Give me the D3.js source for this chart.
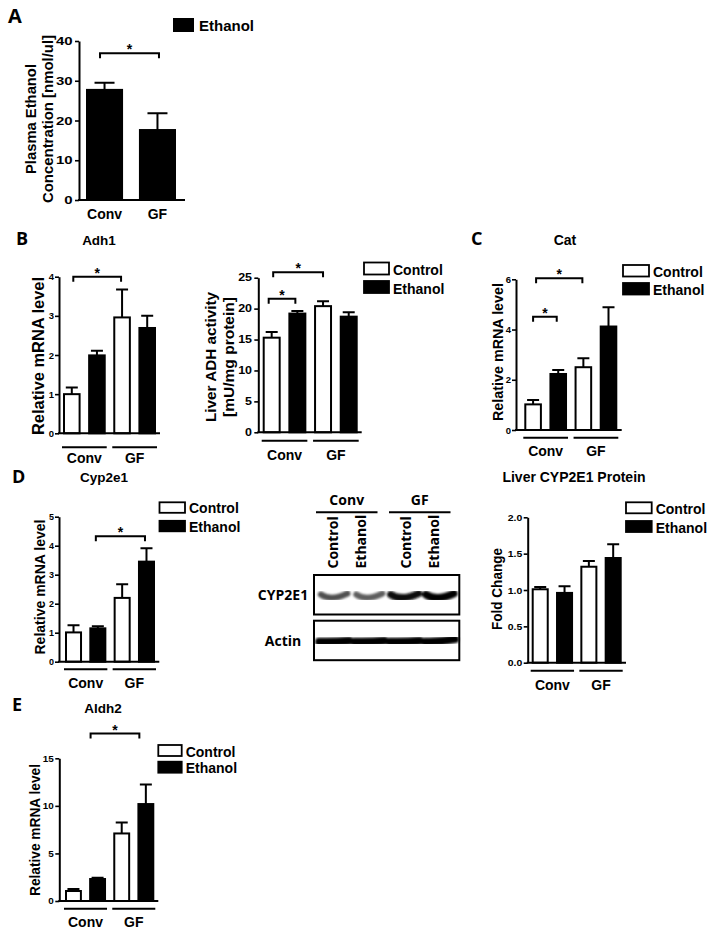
<!DOCTYPE html>
<html>
<head>
<meta charset="utf-8">
<script src="https://cdn.jsdelivr.net/npm/d3@7"></script>
<style>
body { margin: 0; background: #fff; }
</style>
</head>
<body>
<div id="fig"></div>
<script>
var groups = ['Conv', 'GF'];
var treatments = ['Control', 'Ethanol'];
var barKeys = d3.cross(groups, treatments).map(d => d.join(' '));
var barFills = ['#fff', '#000', '#fff', '#000'];

// A - plasma ethanol
var plasmaMean = [27.7, 17.6];
var plasmaErr = [1.8, 4.2];
var plasmaTicks = [0, 10, 20, 30, 40];
// B - Adh1 mRNA and ADH activity
var adh1Mean = [1.0, 1.99, 2.96, 2.69];
var adh1Err = [0.17, 0.12, 0.71, 0.31];
var adh1Ticks = [0, 1, 2, 3, 4];
var adhActMean = [15.3, 19.2, 20.4, 18.7];
var adhActErr = [0.9, 0.4, 0.8, 0.7];
var adhActTicks = [0, 5, 10, 15, 20, 25];
// C - Cat
var catMean = [1.02, 2.23, 2.5, 4.12];
var catErr = [0.17, 0.16, 0.36, 0.77];
var catTicks = [0, 2, 4, 6];
// D - Cyp2e1 mRNA and protein
var cypMean = [1.01, 1.15, 2.2, 3.45];
var cypErr = [0.25, 0.07, 0.47, 0.46];
var cypTicks = [0, 1, 2, 3, 4, 5];
var cypProtMean = [1.01, 0.96, 1.32, 1.44];
var cypProtErr = [0.03, 0.09, 0.08, 0.19];
var cypProtTicks = [0, 0.5, 1.0, 1.5, 2.0];
// blot band density (relative)
var cypBand = [0.62, 0.55, 0.95, 1.0];
var actinBand = [1, 1, 1, 1];
// E - Aldh2
var aldh2Mean = [1.05, 2.31, 7.1, 10.19];
var aldh2Err = [0.21, 0.14, 1.16, 2.06];
var aldh2Ticks = [0, 5, 10, 15];

var svg = d3.select('#fig').append('svg')
  .attr('width', 714).attr('height', 936)
  .style('font-family', '"Liberation Sans", Arial, sans-serif')
  .style('font-weight', 'bold');

var letterFont = '"Open Sans", "Liberation Sans", sans-serif';

function txt(s, x, y, size, anchor, fam) {
  return svg.append('text').attr('x', x).attr('y', y)
    .attr('font-size', size).attr('text-anchor', anchor || 'start')
    .attr('font-family', fam || null).text(s);
}

function legend(lx, ly, w, h, gap, names, fills) {
  names.forEach(function(n, i) {
    svg.append('rect').attr('x', lx).attr('y', ly + i*gap).attr('width', w).attr('height', h)
      .attr('fill', fills[i]).attr('stroke', '#000').attr('stroke-width', 1.8);
    txt(n, lx + w + 4, ly + i*gap + h + 0.5, 14);
  });
}

function barPanel(c) {
  var g = svg.append('g');
  var y = d3.scaleLinear().domain([0, d3.max(c.ticks)]).range([c.y0, c.y1]);
  var x = d3.scaleBand().domain(c.keys).range([c.bl, c.br]).paddingInner(0.3);
  var bw = x.bandwidth();
  var rows = c.keys.map((k, i) => ({k: k, m: c.mean[i], e: c.err[i], fill: c.fills[i]}));

  g.selectAll('path.err').data(rows).join('path').attr('class', 'err')
    .attr('d', function(d) {
      var cx = x(d.k) + bw/2, yt = y(d.m + d.e);
      return 'M' + cx + ',' + y(d.m) + 'V' + yt + 'M' + (cx - c.cap/2) + ',' + yt + 'H' + (cx + c.cap/2);
    })
    .attr('stroke', '#000').attr('stroke-width', 2).attr('fill', 'none');

  g.selectAll('rect.bar').data(rows).join('rect').attr('class', 'bar')
    .attr('x', d => x(d.k) + 1).attr('width', bw - 2)
    .attr('y', d => y(d.m)).attr('height', d => c.y0 - y(d.m))
    .attr('fill', d => d.fill).attr('stroke', '#000').attr('stroke-width', 2);

  var ax = g.append('g').attr('transform', 'translate(' + c.x0 + ',0)')
    .call(d3.axisLeft(y).tickValues(c.ticks).tickSize(4).tickSizeOuter(0).tickPadding(1)
      .tickFormat(c.fmt || d3.format('d')));
  ax.attr('font-family', null).attr('font-size', c.tickSize);
  ax.select('.domain').attr('stroke-width', 2);
  ax.selectAll('.tick line').attr('stroke-width', 1.6);
  ax.selectAll('.tick text').attr('fill', '#000').attr('transform', 'scale(' + c.stretch + ',1)');

  g.append('line').attr('x1', c.x0 - 1).attr('x2', c.x1).attr('y1', c.y0).attr('y2', c.y0)
    .attr('stroke', '#000').attr('stroke-width', 2);

  if (c.grouped) {
    groups.forEach(function(gr, gi) {
      var a = x(c.keys[gi*2]) - 1, b = x(c.keys[gi*2 + 1]) + bw + 1;
      g.append('line').attr('x1', a).attr('x2', b).attr('y1', c.y0 + c.lineOff).attr('y2', c.y0 + c.lineOff)
        .attr('stroke', '#000').attr('stroke-width', 2);
      txt(gr, (a + b)/2, c.y0 + c.labelOff, 14, 'middle');
    });
  } else {
    c.keys.forEach(function(k) {
      txt(k, x(k) + bw/2, c.y0 + c.labelOff, 14, 'middle');
    });
  }

  (c.brackets || []).forEach(function(br) {
    var xa = x(c.keys[br.a]) + bw/2 + (br.da || 0);
    var xb = x(c.keys[br.b]) + bw/2 + (br.db || 0);
    var yb = y(br.v);
    g.append('path').attr('d', 'M' + xa + ',' + (yb + 5) + 'V' + yb + 'H' + xb + 'V' + (yb + 5))
      .attr('fill', 'none').attr('stroke', '#000').attr('stroke-width', 2);
    txt('*', (xa + xb)/2, yb + 1, 14, 'middle');
  });

  c.ylabel.forEach(function(l) {
    svg.append('text').attr('transform', 'translate(' + l.x + ',' + (l.mid || c.ymid) + ') rotate(-90)')
      .attr('text-anchor', 'middle').attr('font-size', l.size)
      .attr('textLength', l.len).attr('lengthAdjust', 'spacingAndGlyphs')
      .text(l.t);
  });
}

// ---- A ----
txt('A', 8, 23, 20, 'start', letterFont);
barPanel({keys: groups, fills: ['#000', '#000'], mean: plasmaMean, err: plasmaErr, ticks: plasmaTicks,
  y0: 200, y1: 41, x0: 79, x1: 185, bl: 86, br: 176, cap: 20, grouped: false, labelOff: 18.5,
  tickSize: 11.5, stretch: 1.3,
  brackets: [{a: 0, b: 1, v: 36.9, da: -4.5, db: 1.5}],
  ymid: 119,
  ylabel: [{t: 'Plasma Ethanol', x: 36, size: 15, len: 110}, {t: 'Concentration [nmol/ul]', x: 53, size: 15, len: 168}]});
svg.append('rect').attr('x', 173).attr('y', 18).attr('width', 21).attr('height', 14).attr('fill', '#000');
txt('Ethanol', 199, 30.5, 15);

// ---- B ----
txt('B', 16, 245, 18, 'start', letterFont);
txt('Adh1', 99, 245, 13.5, 'middle');
barPanel({keys: barKeys, fills: barFills, mean: adh1Mean, err: adh1Err, ticks: adh1Ticks,
  y0: 433.3, y1: 276.7, x0: 59, x1: 160, bl: 63, br: 156, cap: 12, grouped: true, lineOff: 14, labelOff: 30,
  tickSize: 9.5, stretch: 1,
  brackets: [{a: 0, b: 2, v: 4.0, da: 1.5, db: -1}],
  ymid: 356,
  ylabel: [{t: 'Relative mRNA level', x: 43.5, size: 16, len: 158}]});

barPanel({keys: barKeys, fills: barFills, mean: adhActMean, err: adhActErr, ticks: adhActTicks,
  y0: 432.3, y1: 277.7, x0: 258.3, x1: 361.7, bl: 262.7, br: 357.7, cap: 12, grouped: true, lineOff: 8.4, labelOff: 28,
  tickSize: 10, stretch: 1.25,
  brackets: [{a: 0, b: 1, v: 21.6, da: -3, db: -2}, {a: 0, b: 2, v: 25.9, da: 1.5, db: 0}],
  ymid: 357,
  ylabel: [{t: 'Liver ADH activity', x: 216, size: 15, len: 130}, {t: '[mU/mg protein]', x: 234, size: 15, len: 120}]});
legend(364, 262.5, 25, 12, 18.5, treatments, ['#fff', '#000']);

// ---- C ----
txt('C', 471, 245, 18, 'start', letterFont);
txt('Cat', 565, 245, 14, 'middle');
barPanel({keys: barKeys, fills: barFills, mean: catMean, err: catErr, ticks: catTicks,
  y0: 430, y1: 279.3, x0: 516, x1: 621.7, bl: 524.3, br: 617.3, cap: 12, grouped: true, lineOff: 7.7, labelOff: 26,
  tickSize: 9.5, stretch: 1,
  brackets: [{a: 0, b: 1, v: 4.51, da: 0, db: -1.5}, {a: 0, b: 2, v: 6.04, da: 3, db: -1}],
  ymid: 352,
  ylabel: [{t: 'Relative mRNA level', x: 503, size: 14.3, len: 138}]});
legend(623, 265, 26, 11.5, 18, treatments, ['#fff', '#000']);

// ---- D ----
txt('D', 12, 483, 18, 'start', letterFont);
txt('Cyp2e1', 104, 482, 13.5, 'middle');
barPanel({keys: barKeys, fills: barFills, mean: cypMean, err: cypErr, ticks: cypTicks,
  y0: 661.7, y1: 516.7, x0: 59, x1: 159.3, bl: 65, br: 155, cap: 12, grouped: true, lineOff: 7.6, labelOff: 26.6,
  tickSize: 9, stretch: 1,
  brackets: [{a: 1, b: 3, v: 4.33, da: -2, db: -1.5}],
  ymid: 587,
  ylabel: [{t: 'Relative mRNA level', x: 45, size: 14, len: 135}]});
legend(159.5, 502.3, 25.5, 10.5, 18.5, treatments, ['#fff', '#000']);

txt('Liver CYP2E1 Protein', 574, 481.5, 14, 'middle');
barPanel({keys: barKeys, fills: barFills, mean: cypProtMean, err: cypProtErr, ticks: cypProtTicks,
  y0: 662.7, y1: 517.3, x0: 527.7, x1: 626, bl: 531.7, br: 621.7, cap: 12, grouped: true, lineOff: 8, labelOff: 27.3,
  tickSize: 9.5, stretch: 1.1, fmt: d3.format('.1f'),
  ymid: 589,
  ylabel: [{t: 'Fold Change', x: 501.5, size: 14, len: 82}]});
legend(626, 502.3, 25.7, 11, 18.7, treatments, ['#fff', '#000']);

// ---- D blot ----
(function() {
  var defs = svg.append('defs');
  defs.append('filter').attr('id', 'blur').attr('x', '-20%').attr('y', '-50%').attr('width', '140%').attr('height', '200%')
    .append('feGaussianBlur').attr('stdDeviation', 1.3);

  var lane = d3.scaleBand().domain(barKeys).range([316.5, 457.5]);
  var lw = lane.bandwidth();
  var bf = letterFont;

  // group headers
  groups.forEach(function(gr, gi) {
    var a = gi === 0 ? 316 : 389, b = a + 61.5;
    svg.append('line').attr('x1', a).attr('x2', b).attr('y1', 512.3).attr('y2', 512.3)
      .attr('stroke', '#000').attr('stroke-width', 2);
    txt(gr, (a + b)/2, 505, 14, 'middle', bf);
    treatments.forEach(function(t, ti) {
      var lx = a + (b - a) * (ti === 0 ? 0.27 : 0.73);
      svg.append('text').attr('transform', 'translate(' + lx + ',568.5) rotate(-90)')
        .attr('dy', '0.36em').attr('font-size', 14).attr('font-family', bf).text(t);
    });
  });

  // boxes
  var boxes = [{name: 'CYP2E1', y: 575, dens: cypBand}, {name: 'Actin', y: 620.7, dens: actinBand}];
  boxes.forEach(function(bx, bi) {
    svg.append('rect').attr('x', 314).attr('y', bx.y).attr('width', 145.3).attr('height', 39.5)
      .attr('fill', '#fff').attr('stroke', '#000').attr('stroke-width', 2);
    txt(bx.name, 283, bx.y + 25, 14, 'middle', bf);
    var bands = svg.append('g').attr('filter', 'url(#blur)');
    barKeys.forEach(function(k, i) {
      var d = bx.dens[i];
      var cx = lane(k) + lw/2;
      if (bi === 0) {
        var w = 24 + 4*d, cy = bx.y + 21, h = 4 + 3.5*d;
        var l = cx - w/2, r = cx + w/2;
        bands.append('path')
          .attr('d', 'M' + l + ',' + (cy - 1.5) + 'C' + (l + w*0.3) + ',' + (cy + 4) + ' ' + (r - w*0.35) + ',' + (cy + 2) + ' ' + r + ',' + (cy - 2.5))
          .attr('fill', 'none').attr('stroke', d3.interpolateGreys(0.35 + 0.65*d))
          .attr('stroke-width', h).attr('stroke-linecap', 'round');
      } else {
        var w2 = 30, cy2 = bx.y + 20.5;
        bands.append('path')
          .attr('d', 'M' + (cx - w2/2) + ',' + (cy2 + 0.5) + 'Q' + cx + ',' + (cy2 + 1) + ' ' + (cx + w2/2) + ',' + (cy2 - (i === 3 ? 2 : 0.5)))
          .attr('fill', 'none').attr('stroke', d3.interpolateGreys(0.55 + 0.45*d))
          .attr('stroke-width', 8).attr('stroke-linecap', 'round');
      }
    });
  });
})();

// ---- E ----
txt('E', 12, 711, 18, 'start', letterFont);
txt('Aldh2', 103, 712.5, 13.5, 'middle');
barPanel({keys: barKeys, fills: barFills, mean: aldh2Mean, err: aldh2Err, ticks: aldh2Ticks,
  y0: 901, y1: 758.3, x0: 59.3, x1: 158.3, bl: 65, br: 154.3, cap: 12, grouped: true, lineOff: 7.7, labelOff: 25.7,
  tickSize: 9, stretch: 1.1,
  brackets: [{a: 1, b: 3, v: 17.6, da: -7, db: -6.5}],
  ymid: 830,
  ylabel: [{t: 'Relative mRNA level', x: 39.5, size: 14, len: 132}]});
legend(158.3, 745, 23.4, 11, 16.7, treatments, ['#fff', '#000']);
</script>
</body>
</html>
